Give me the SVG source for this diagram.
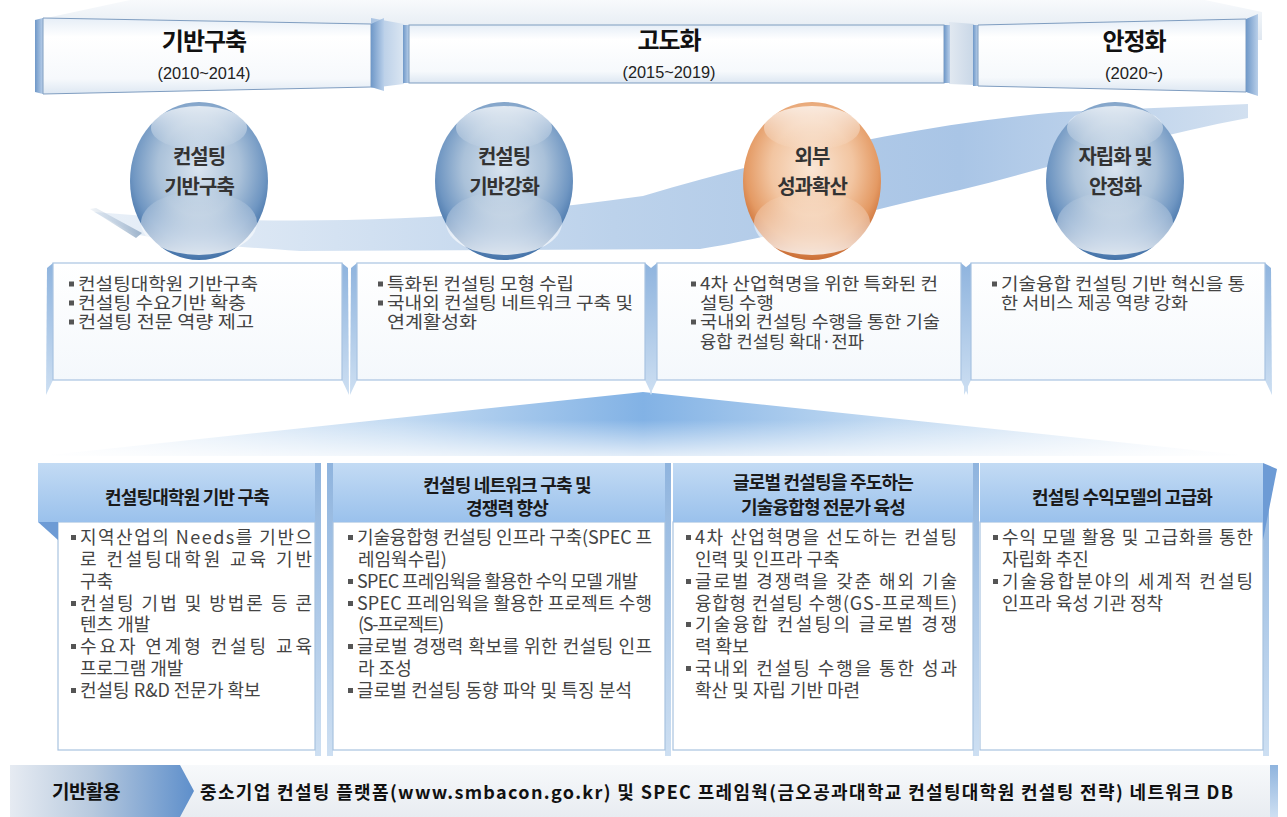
<svg xmlns="http://www.w3.org/2000/svg" width="1287" height="817" viewBox="0 0 1287 817">
<defs>
<style>
text{font-family:"Noto Sans CJK KR","Noto Sans",sans-serif}
.ht{font-size:24px;font-weight:700;fill:#111;letter-spacing:-1px;text-anchor:middle}
.yr{font-family:"Liberation Sans",sans-serif;font-size:17px;fill:#222;text-anchor:middle}
.ct{font-size:20px;font-weight:700;fill:#333;letter-spacing:-1px;text-anchor:middle}
.tt{font-size:17.5px;fill:#444}
.bh{font-size:18px;font-weight:700;fill:#1a1a1a;letter-spacing:-0.8px;text-anchor:middle}
.bt{font-size:18px;fill:#444}
.bul{fill:#555}
.ft{font-size:18px;font-weight:700;fill:#111}
.front{fill:url(#hdr);stroke:#7f9dc0;stroke-width:1}
.bar{fill:url(#side)}
.tbox{fill:url(#tfill);stroke:#a9c4e2;stroke-width:1.2}
.strip{fill:url(#strip)}
.bbody{fill:#fff;stroke:#a9c3e0;stroke-width:1.2}
.bband{fill:url(#bhead)}
</style>
<linearGradient id="floor" x1="0" y1="0" x2="0" y2="1"><stop offset="0" stop-color="#f8fafc"/><stop offset="1" stop-color="#dfe7f0"/></linearGradient>
<linearGradient id="hdr" x1="0" y1="0" x2="0" y2="1"><stop offset="0" stop-color="#e6eef7"/><stop offset="0.25" stop-color="#ffffff"/><stop offset="0.8" stop-color="#f6f9fc"/><stop offset="1" stop-color="#dde7f2"/></linearGradient>
<linearGradient id="side" x1="0" y1="0" x2="1" y2="0"><stop offset="0" stop-color="#6f98c8"/><stop offset="1" stop-color="#b9cfe9"/></linearGradient>
<linearGradient id="gap1" x1="0" y1="0" x2="1" y2="0"><stop offset="0" stop-color="#a9c3e2"/><stop offset="1" stop-color="#dbe6f2"/></linearGradient>
<linearGradient id="gap2" x1="0" y1="0" x2="1" y2="0"><stop offset="0" stop-color="#e2e9f1"/><stop offset="1" stop-color="#c9d7e7"/></linearGradient>
<linearGradient id="band" x1="0" y1="0" x2="1" y2="0"><stop offset="0" stop-color="#e9f0f8"/><stop offset="0.45" stop-color="#bcd2eb"/><stop offset="0.75" stop-color="#a9c5e6"/><stop offset="1" stop-color="#d2e0f0"/></linearGradient>
<linearGradient id="streak" x1="0" y1="0" x2="1" y2="0"><stop offset="0" stop-color="#b8c9db" stop-opacity="0.2"/><stop offset="1" stop-color="#9db3cb"/></linearGradient>
<radialGradient id="eggB" cx="0.5" cy="0.42" r="0.6"><stop offset="0" stop-color="#d9e4ef"/><stop offset="0.5" stop-color="#aac1d9"/><stop offset="0.8" stop-color="#6f96c2"/><stop offset="1" stop-color="#3b6ba3"/></radialGradient>
<radialGradient id="eggO" cx="0.5" cy="0.42" r="0.6"><stop offset="0" stop-color="#fae6d5"/><stop offset="0.5" stop-color="#f2c5a1"/><stop offset="0.8" stop-color="#e49a64"/><stop offset="1" stop-color="#c5652c"/></radialGradient>
<linearGradient id="gloss" x1="0" y1="0" x2="0" y2="1"><stop offset="0" stop-color="#fff" stop-opacity="0.75"/><stop offset="1" stop-color="#fff" stop-opacity="0"/></linearGradient>
<linearGradient id="refl" x1="0" y1="0" x2="0" y2="1"><stop offset="0" stop-color="#fff" stop-opacity="0"/><stop offset="1" stop-color="#fff" stop-opacity="0.8"/></linearGradient>
<linearGradient id="tfill" x1="0" y1="0" x2="0" y2="1"><stop offset="0" stop-color="#ffffff"/><stop offset="1" stop-color="#f4f8fc"/></linearGradient>
<linearGradient id="strip" x1="0" y1="0" x2="0" y2="1"><stop offset="0" stop-color="#8fb4de"/><stop offset="1" stop-color="#cddff2"/></linearGradient>
<linearGradient id="fanL" x1="40" y1="0" x2="643" y2="0" gradientUnits="userSpaceOnUse"><stop offset="0" stop-color="#ffffff"/><stop offset="0.6" stop-color="#c2daf2"/><stop offset="1" stop-color="#82b2e5"/></linearGradient>
<linearGradient id="fanR" x1="643" y1="0" x2="1250" y2="0" gradientUnits="userSpaceOnUse"><stop offset="0" stop-color="#82b2e5"/><stop offset="0.4" stop-color="#c2daf2"/><stop offset="1" stop-color="#ffffff"/></linearGradient>
<linearGradient id="fanV" x1="0" y1="0" x2="0" y2="1"><stop offset="0" stop-color="#fff" stop-opacity="0"/><stop offset="1" stop-color="#fff" stop-opacity="0.85"/></linearGradient>
<linearGradient id="bhead" x1="0" y1="0" x2="0" y2="1"><stop offset="0" stop-color="#c3dbf4"/><stop offset="1" stop-color="#9ac1ec"/></linearGradient>
<linearGradient id="chev" x1="0" y1="0" x2="1" y2="0"><stop offset="0" stop-color="#e6ebf2"/><stop offset="0.45" stop-color="#b7c9de"/><stop offset="1" stop-color="#5e8fcb"/></linearGradient>
<linearGradient id="barbg" x1="0" y1="0" x2="0" y2="1"><stop offset="0" stop-color="#f7f9fb"/><stop offset="1" stop-color="#e8ecf1"/></linearGradient>
</defs>

<rect width="1287" height="817" fill="#ffffff"/>

<!-- top floor -->
<polygon points="37,20 130,0 1205,0 1262,12 1262,40 37,40" fill="url(#floor)"/>
<polygon points="371,18 404,24 404,84 371,88" fill="url(#gap1)"/>
<polygon points="949,22 974,24 974,85 949,84" fill="url(#gap2)"/>

<g id="connectors">
  <path d="M94,212 C250,226 450,224 643,196 C760,162 900,126 1060,112 L1248,104 L1248,118 C1150,136 1060,165 960,190 C850,215 760,240 700,249 L300,251 C220,246 160,240 135,234 Z" fill="url(#band)"/>
  <polygon points="90,209 96,208 142,233 136,238" fill="url(#streak)"/>
  <polygon points="643,392 40,456 643,456" fill="url(#fanL)"/>
  <polygon points="643,392 1250,456 643,456" fill="url(#fanR)"/>
  <rect x="40" y="420" width="1210" height="40" fill="url(#fanV)"/>
</g>

<g id="h1">
  <polygon class="bar" points="35,20 43,18 43,94 35,92"/>
  <polygon class="front" points="43,18 371,24 371,87 43,94"/>
  <polygon class="bar" points="371,24 384,18 384,91 371,87"/>
  <text class="ht" x="204" y="50">기반구축</text>
  <text class="yr" x="204" y="79" textLength="93" lengthAdjust="spacingAndGlyphs">(2010~2014)</text>
</g>
<g id="h2">
  <rect class="bar" x="403" y="25" width="6" height="58"/>
  <rect class="front" x="409" y="25" width="535" height="58"/>
  <rect class="bar" x="944" y="25" width="6" height="58"/>
  <text class="ht" x="669" y="49">고도화</text>
  <text class="yr" x="669" y="78" textLength="93" lengthAdjust="spacingAndGlyphs">(2015~2019)</text>
</g>
<g id="h3">
  <rect class="bar" x="973" y="25" width="5" height="61"/>
  <polygon class="front" points="978,25 1246,19 1246,92 978,86"/>
  <polygon class="bar" points="1246,19 1258,14 1258,96 1246,92"/>
  <text class="ht" x="1134" y="50">안정화</text>
  <text class="yr" x="1134" y="79" textLength="58" lengthAdjust="spacingAndGlyphs">(2020~)</text>
</g>

<g id="c1">
  <ellipse cx="199" cy="181" rx="69" ry="79" fill="url(#eggB)"/>
  <ellipse cx="199" cy="128" rx="48" ry="22" fill="url(#gloss)"/>
  <ellipse cx="199" cy="223" rx="58" ry="32" fill="url(#refl)"/>
  <text class="ct" x="199" y="164">컨설팅</text>
  <text class="ct" x="199" y="194">기반구축</text>
</g>
<g id="c2">
  <ellipse cx="504" cy="181" rx="69" ry="79" fill="url(#eggB)"/>
  <ellipse cx="504" cy="128" rx="48" ry="22" fill="url(#gloss)"/>
  <ellipse cx="504" cy="223" rx="58" ry="32" fill="url(#refl)"/>
  <text class="ct" x="504" y="164">컨설팅</text>
  <text class="ct" x="504" y="194">기반강화</text>
</g>
<g id="c3">
  <ellipse cx="812" cy="181" rx="69" ry="79" fill="url(#eggO)"/>
  <ellipse cx="812" cy="128" rx="48" ry="22" fill="url(#gloss)"/>
  <ellipse cx="812" cy="223" rx="58" ry="32" fill="url(#refl)"/>
  <text class="ct" x="812" y="164">외부</text>
  <text class="ct" x="812" y="194">성과확산</text>
</g>
<g id="c4">
  <ellipse cx="1115" cy="181" rx="69" ry="79" fill="url(#eggB)"/>
  <ellipse cx="1115" cy="128" rx="48" ry="22" fill="url(#gloss)"/>
  <ellipse cx="1115" cy="223" rx="58" ry="32" fill="url(#refl)"/>
  <text class="ct" x="1115" y="164">자립화 및</text>
  <text class="ct" x="1115" y="194">안정화</text>
</g>

<g id="t1">
  <polygon class="strip" points="53,263 47,268 46,395 53,380"/>
  <polygon class="strip" points="342,263 348,268 349,395 342,380"/>
  <rect class="tbox" x="53" y="263" width="289" height="117"/>
  <path class="bul" d="M69,281.5h5v5h-5z M69,300.5h5v5h-5z M69,319.5h5v5h-5z"/>
  <text class="tt">
    <tspan x="78" y="290" textLength="180" lengthAdjust="spacingAndGlyphs">컨설팅대학원 기반구축</tspan>
    <tspan x="78" y="309" textLength="168" lengthAdjust="spacingAndGlyphs">컨설팅 수요기반 확충</tspan>
    <tspan x="78" y="328" textLength="176" lengthAdjust="spacingAndGlyphs">컨설팅 전문 역량 제고</tspan>
  </text>
</g>
<g id="t2">
  <polygon class="strip" points="357,263 351,268 350,395 357,380"/>
  <polygon class="strip" points="645,263 651,268 652,395 645,380"/>
  <rect class="tbox" x="357" y="263" width="288" height="117"/>
  <path class="bul" d="M378,281.5h5v5h-5z M378,300.5h5v5h-5z"/>
  <text class="tt">
    <tspan x="387" y="290" textLength="187" lengthAdjust="spacingAndGlyphs">특화된 컨설팅 모형 수립</tspan>
    <tspan x="387" y="309" textLength="246" lengthAdjust="spacingAndGlyphs">국내외 컨설팅 네트워크 구축 및</tspan>
    <tspan x="387" y="328" textLength="90" lengthAdjust="spacingAndGlyphs">연계활성화</tspan>
  </text>
</g>
<g id="t3">
  <polygon class="strip" points="657,263 651,268 650,395 657,380"/>
  <polygon class="strip" points="961,263 967,268 968,395 961,380"/>
  <rect class="tbox" x="657" y="263" width="304" height="117"/>
  <path class="bul" d="M691,281.5h5v5h-5z M691,319.5h5v5h-5z"/>
  <text class="tt">
    <tspan x="700" y="290" textLength="238" lengthAdjust="spacingAndGlyphs">4차 산업혁명을 위한 특화된 컨</tspan>
    <tspan x="700" y="309" textLength="74" lengthAdjust="spacingAndGlyphs">설팅 수행</tspan>
    <tspan x="700" y="328" textLength="240" lengthAdjust="spacingAndGlyphs">국내외 컨설팅 수행을 통한 기술</tspan>
    <tspan x="700" y="348" textLength="164" lengthAdjust="spacingAndGlyphs">융합 컨설팅 확대·전파</tspan>
  </text>
</g>
<g id="t4">
  <polygon class="strip" points="971,263 965,268 964,395 971,380"/>
  <polygon class="strip" points="1265,263 1271,268 1272,395 1265,380"/>
  <rect class="tbox" x="971" y="263" width="294" height="117"/>
  <path class="bul" d="M992,281.5h5v5h-5z"/>
  <text class="tt">
    <tspan x="1001" y="290" textLength="244" lengthAdjust="spacingAndGlyphs">기술융합 컨설팅 기반 혁신을 통</tspan>
    <tspan x="1001" y="309" textLength="187" lengthAdjust="spacingAndGlyphs">한 서비스 제공 역량 강화</tspan>
  </text>
</g>

<g id="b1">
  <rect class="strip" x="315" y="463" width="6" height="293"/>
  <rect class="bbody" x="58" y="522" width="257" height="228"/>
  <rect class="bband" x="38" y="463" width="277" height="59"/>
  <polygon points="38,522 58,522 58,540" fill="#6d9bd5"/>
  <text class="bh" x="187" y="504">컨설팅대학원 기반 구축</text>
  <path class="bul" d="M71,535h5v5h-5z M71,601h5v5h-5z M71,644h5v5h-5z M71,688h5v5h-5z"/>
  <text class="bt">
    <tspan x="80" y="544" textLength="232">지역산업의 Needs를 기반으</tspan>
    <tspan x="80" y="566" textLength="232">로 컨설팅대학원 교육 기반</tspan>
    <tspan x="80" y="588">구축</tspan>
    <tspan x="80" y="610" textLength="232">컨설팅 기법 및 방법론 등 콘</tspan>
    <tspan x="80" y="631">텐츠 개발</tspan>
    <tspan x="80" y="653" textLength="232">수요자 연계형 컨설팅 교육</tspan>
    <tspan x="80" y="675">프로그램 개발</tspan>
    <tspan x="80" y="697">컨설팅 R&amp;D 전문가 확보</tspan>
  </text>
</g>
<g id="b2">
  <rect class="strip" x="327" y="463" width="6" height="293"/>
  <rect class="strip" x="665" y="463" width="6" height="293"/>
  <rect class="bbody" x="333" y="522" width="332" height="228"/>
  <rect class="bband" x="333" y="463" width="332" height="59"/>
  <text class="bh" x="507" y="492">컨설팅 네트워크 구축 및</text>
  <text class="bh" x="507" y="515">경쟁력 향상</text>
  <path class="bul" d="M348,535h5v5h-5z M348,579h5v5h-5z M348,601h5v5h-5z M348,644h5v5h-5z M348,688h5v5h-5z"/>
  <text class="bt">
    <tspan x="357" y="544" textLength="295">기술융합형 컨설팅 인프라 구축(SPEC 프</tspan>
    <tspan x="358" y="566">레임웍수립)</tspan>
    <tspan x="357" y="588" textLength="281">SPEC 프레임웍을 활용한 수익 모델 개발</tspan>
    <tspan x="357" y="610" textLength="295">SPEC 프레임웍을 활용한 프로젝트 수행</tspan>
    <tspan x="358" y="631" textLength="86">(S-프로젝트)</tspan>
    <tspan x="357" y="653" textLength="295">글로벌 경쟁력 확보를 위한 컨설팅 인프</tspan>
    <tspan x="358" y="675">라 조성</tspan>
    <tspan x="357" y="697" textLength="275">글로벌 컨설팅 동향 파악 및 특징 분석</tspan>
  </text>
</g>
<g id="b3">
  <rect class="strip" x="973" y="463" width="6" height="293"/>
  <rect class="bbody" x="673" y="522" width="300" height="228"/>
  <rect class="bband" x="673" y="463" width="300" height="59"/>
  <text class="bh" x="823" y="489">글로벌 컨설팅을 주도하는</text>
  <text class="bh" x="823" y="514">기술융합형 전문가 육성</text>
  <path class="bul" d="M686,535h5v5h-5z M686,579h5v5h-5z M686,622h5v5h-5z M686,666h5v5h-5z"/>
  <text class="bt">
    <tspan x="695" y="544" textLength="262">4차 산업혁명을 선도하는 컨설팅</tspan>
    <tspan x="695" y="566">인력 및 인프라 구축</tspan>
    <tspan x="695" y="588" textLength="262">글로벌 경쟁력을 갖춘 해외 기술</tspan>
    <tspan x="695" y="610" textLength="262">융합형 컨설팅 수행(GS-프로젝트)</tspan>
    <tspan x="695" y="631" textLength="262">기술융합 컨설팅의 글로벌 경쟁</tspan>
    <tspan x="695" y="653">력 확보</tspan>
    <tspan x="695" y="675" textLength="262">국내외 컨설팅 수행을 통한 성과</tspan>
    <tspan x="695" y="697">확산 및 자립 기반 마련</tspan>
  </text>
</g>
<g id="b4">
  <rect class="strip" x="1263" y="470" width="6" height="286"/>
  <rect class="bbody" x="980" y="522" width="283" height="228"/>
  <rect class="bband" x="980" y="463" width="283" height="59"/>
  <polygon points="1263,463 1277,469 1263,540" fill="#6d9bd5"/>
  <text class="bh" x="1122" y="504">컨설팅 수익모델의 고급화</text>
  <path class="bul" d="M993,535h5v5h-5z M993,579h5v5h-5z"/>
  <text class="bt">
    <tspan x="1002" y="544" textLength="251">수익 모델 활용 및 고급화를 통한</tspan>
    <tspan x="1002" y="566">자립화 추진</tspan>
    <tspan x="1002" y="588" textLength="251">기술융합분야의 세계적 컨설팅</tspan>
    <tspan x="1002" y="610">인프라 육성 기관 정착</tspan>
  </text>
</g>

<g id="footer">
  <rect x="10" y="765" width="1266" height="52" fill="url(#barbg)"/>
  <rect x="1270" y="765" width="8" height="52" fill="url(#strip)"/>
  <polygon points="10,765 180,765 194,791 180,817 10,817" fill="url(#chev)"/>
  <text class="ft" x="86" y="799" text-anchor="middle" style="font-size:19px;letter-spacing:-0.5px">기반활용</text>
  <text class="ft" x="200" y="799" textLength="1033">중소기업 컨설팅 플랫폼(www.smbacon.go.kr) 및 SPEC 프레임웍(금오공과대학교 컨설팅대학원 컨설팅 전략) 네트워크 DB</text>
</g>
</svg>
